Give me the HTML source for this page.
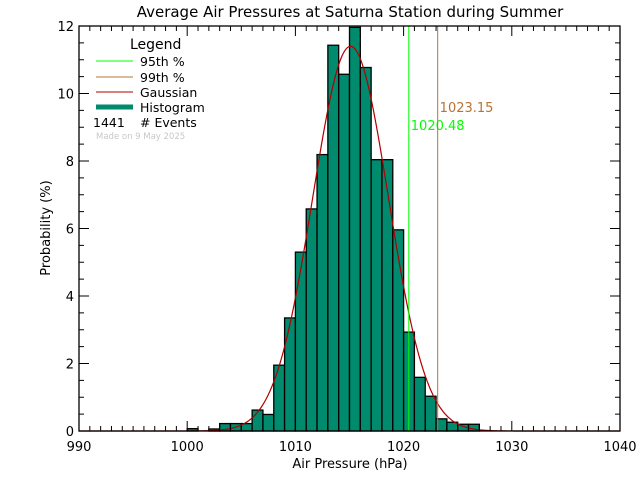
<!DOCTYPE html>
<html><head><meta charset="utf-8"><style>
body{margin:0;background:#fff}
svg{display:block;font-family:"DejaVu Sans","Liberation Sans",sans-serif}
</style></head><body>
<svg id="c" width="640" height="480" viewBox="0 0 640 480">
<rect width="640" height="480" fill="#fff"/>
<text x="350" y="17" font-size="15" text-anchor="middle">Average Air Pressures at Saturna Station during Summer</text>
<g id="bars"></g>
<g id="gauss"></g>
<g id="pct"></g>
<g id="axes"></g>
<text x="350" y="468" font-size="13" text-anchor="middle">Air Pressure (hPa)</text>
<text x="50" y="228" font-size="13" text-anchor="middle" transform="rotate(-90 50 228)">Probability (%)</text>
<g>
<text x="130" y="49" font-size="14">Legend</text>
<line x1="96" y1="61" x2="133" y2="61" stroke="#00ff00"/>
<text x="140" y="66" font-size="12.5">95th %</text>
<line x1="96" y1="77" x2="133" y2="77" stroke="#b87333"/>
<text x="140" y="82" font-size="12.5">99th %</text>
<line x1="96" y1="92" x2="133" y2="92" stroke="#b00000"/>
<text x="140" y="97" font-size="12.5">Gaussian</text>
<line x1="96" y1="107" x2="133" y2="107" stroke="#008a6e" stroke-width="5"/>
<text x="140" y="112" font-size="12.5">Histogram</text>
<text x="93" y="127" font-size="12.5">1441</text>
<text x="140" y="127" font-size="12.5"># Events</text>
<text x="96" y="139" font-size="8.5" fill="#c8c8c8">Made on 9 May 2025</text>
</g>
</svg>
<script>
const binStarts=[1000,1002,1003,1004,1005,1006,1007,1008,1009,1010,1011,1012,1013,1014,1015,1016,1017,1018,1019,1020,1021,1022,1023,1024,1025,1026];
const binValues=[0.07,0.06,0.22,0.22,0.22,0.62,0.49,1.95,3.35,5.3,6.58,8.19,11.43,10.57,11.96,10.77,8.04,8.04,5.96,2.93,1.59,1.03,0.36,0.26,0.2,0.2];
const gaussMean=[1015.1];
const gaussSigma=[3.5];
const gaussPeak=[11.4];
const pctValues=[1020.48,1023.15];
const pctLabels=["1020.48","1023.15"];
const xTicks=[990,1000,1010,1020,1030,1040];
const yTicks=[0,2,4,6,8,10,12];
const X0=79,X1=620,Y0=431,Y1=26;
const xs=v=>X0+(v-990)/(1040-990)*(X1-X0);
const ys=v=>Y0-(v/12)*(Y0-Y1);
const NS="http://www.w3.org/2000/svg";
function mk(p,t,a){const e=document.createElementNS(NS,t);for(const k in a)e.setAttribute(k,a[k]);p.appendChild(e);return e;}
const bars=document.getElementById('bars');
binStarts.forEach((b,i)=>{
 const r=mk(bars,'rect',{x:xs(b),y:ys(binValues[i]),width:xs(b+1)-xs(b),height:Y0-ys(binValues[i]),fill:'#008a6e',stroke:'#000','stroke-width':1.3});
 
 
});
const g=document.getElementById('gauss');
let d='';
for(let v=990;v<=1040;v+=0.1){const y=gaussPeak[0]*Math.exp(-Math.pow(v-gaussMean[0],2)/(2*gaussSigma[0]*gaussSigma[0]));d+=(d?'L':'M')+xs(v).toFixed(2)+','+ys(y).toFixed(2);}
const gp=mk(g,'path',{d:d,fill:'none',stroke:'#b00000','stroke-width':1.2});


const pc=document.getElementById('pct');
const cols=['#00ff00','#b87333'];
pctValues.forEach((v,i)=>{
 const l=mk(pc,'line',{x1:xs(v),x2:xs(v),y1:Y1,y2:Y0,stroke:cols[i],'stroke-width':1});
 
 
 const t=mk(pc,'text',{x:xs(v)+2,y:i?112:130,'font-size':13,fill:cols[i]});
 t.textContent=pctLabels[i];
 
 
});
const ax=document.getElementById('axes');
const fr=mk(ax,'rect',{x:X0,y:Y1,width:X1-X0,height:Y0-Y1,fill:'none',stroke:'#000','stroke-width':1.3});


for(let v=990;v<=1040;v++){
 const L=(v%10===0)?10:5;
 mk(ax,'line',{x1:xs(v),x2:xs(v),y1:Y0,y2:Y0-L,stroke:'#000'});
 mk(ax,'line',{x1:xs(v),x2:xs(v),y1:Y1,y2:Y1+L,stroke:'#000'});
}
for(let v=0;v<=12;v+=0.5){
 const L=(v%2===0)?10:5;
 mk(ax,'line',{x1:X0,x2:X0+L,y1:ys(v),y2:ys(v),stroke:'#000'});
 mk(ax,'line',{x1:X1,x2:X1-L,y1:ys(v),y2:ys(v),stroke:'#000'});
}
xTicks.forEach(v=>{const t=mk(ax,'text',{x:xs(v),y:451,'font-size':13,'text-anchor':'middle'});t.textContent=v;
 
 });
yTicks.forEach(v=>{const t=mk(ax,'text',{x:X0-5,y:ys(v)+5,'font-size':13,'text-anchor':'end'});t.textContent=v;
 
 });
</script>
</body></html>
